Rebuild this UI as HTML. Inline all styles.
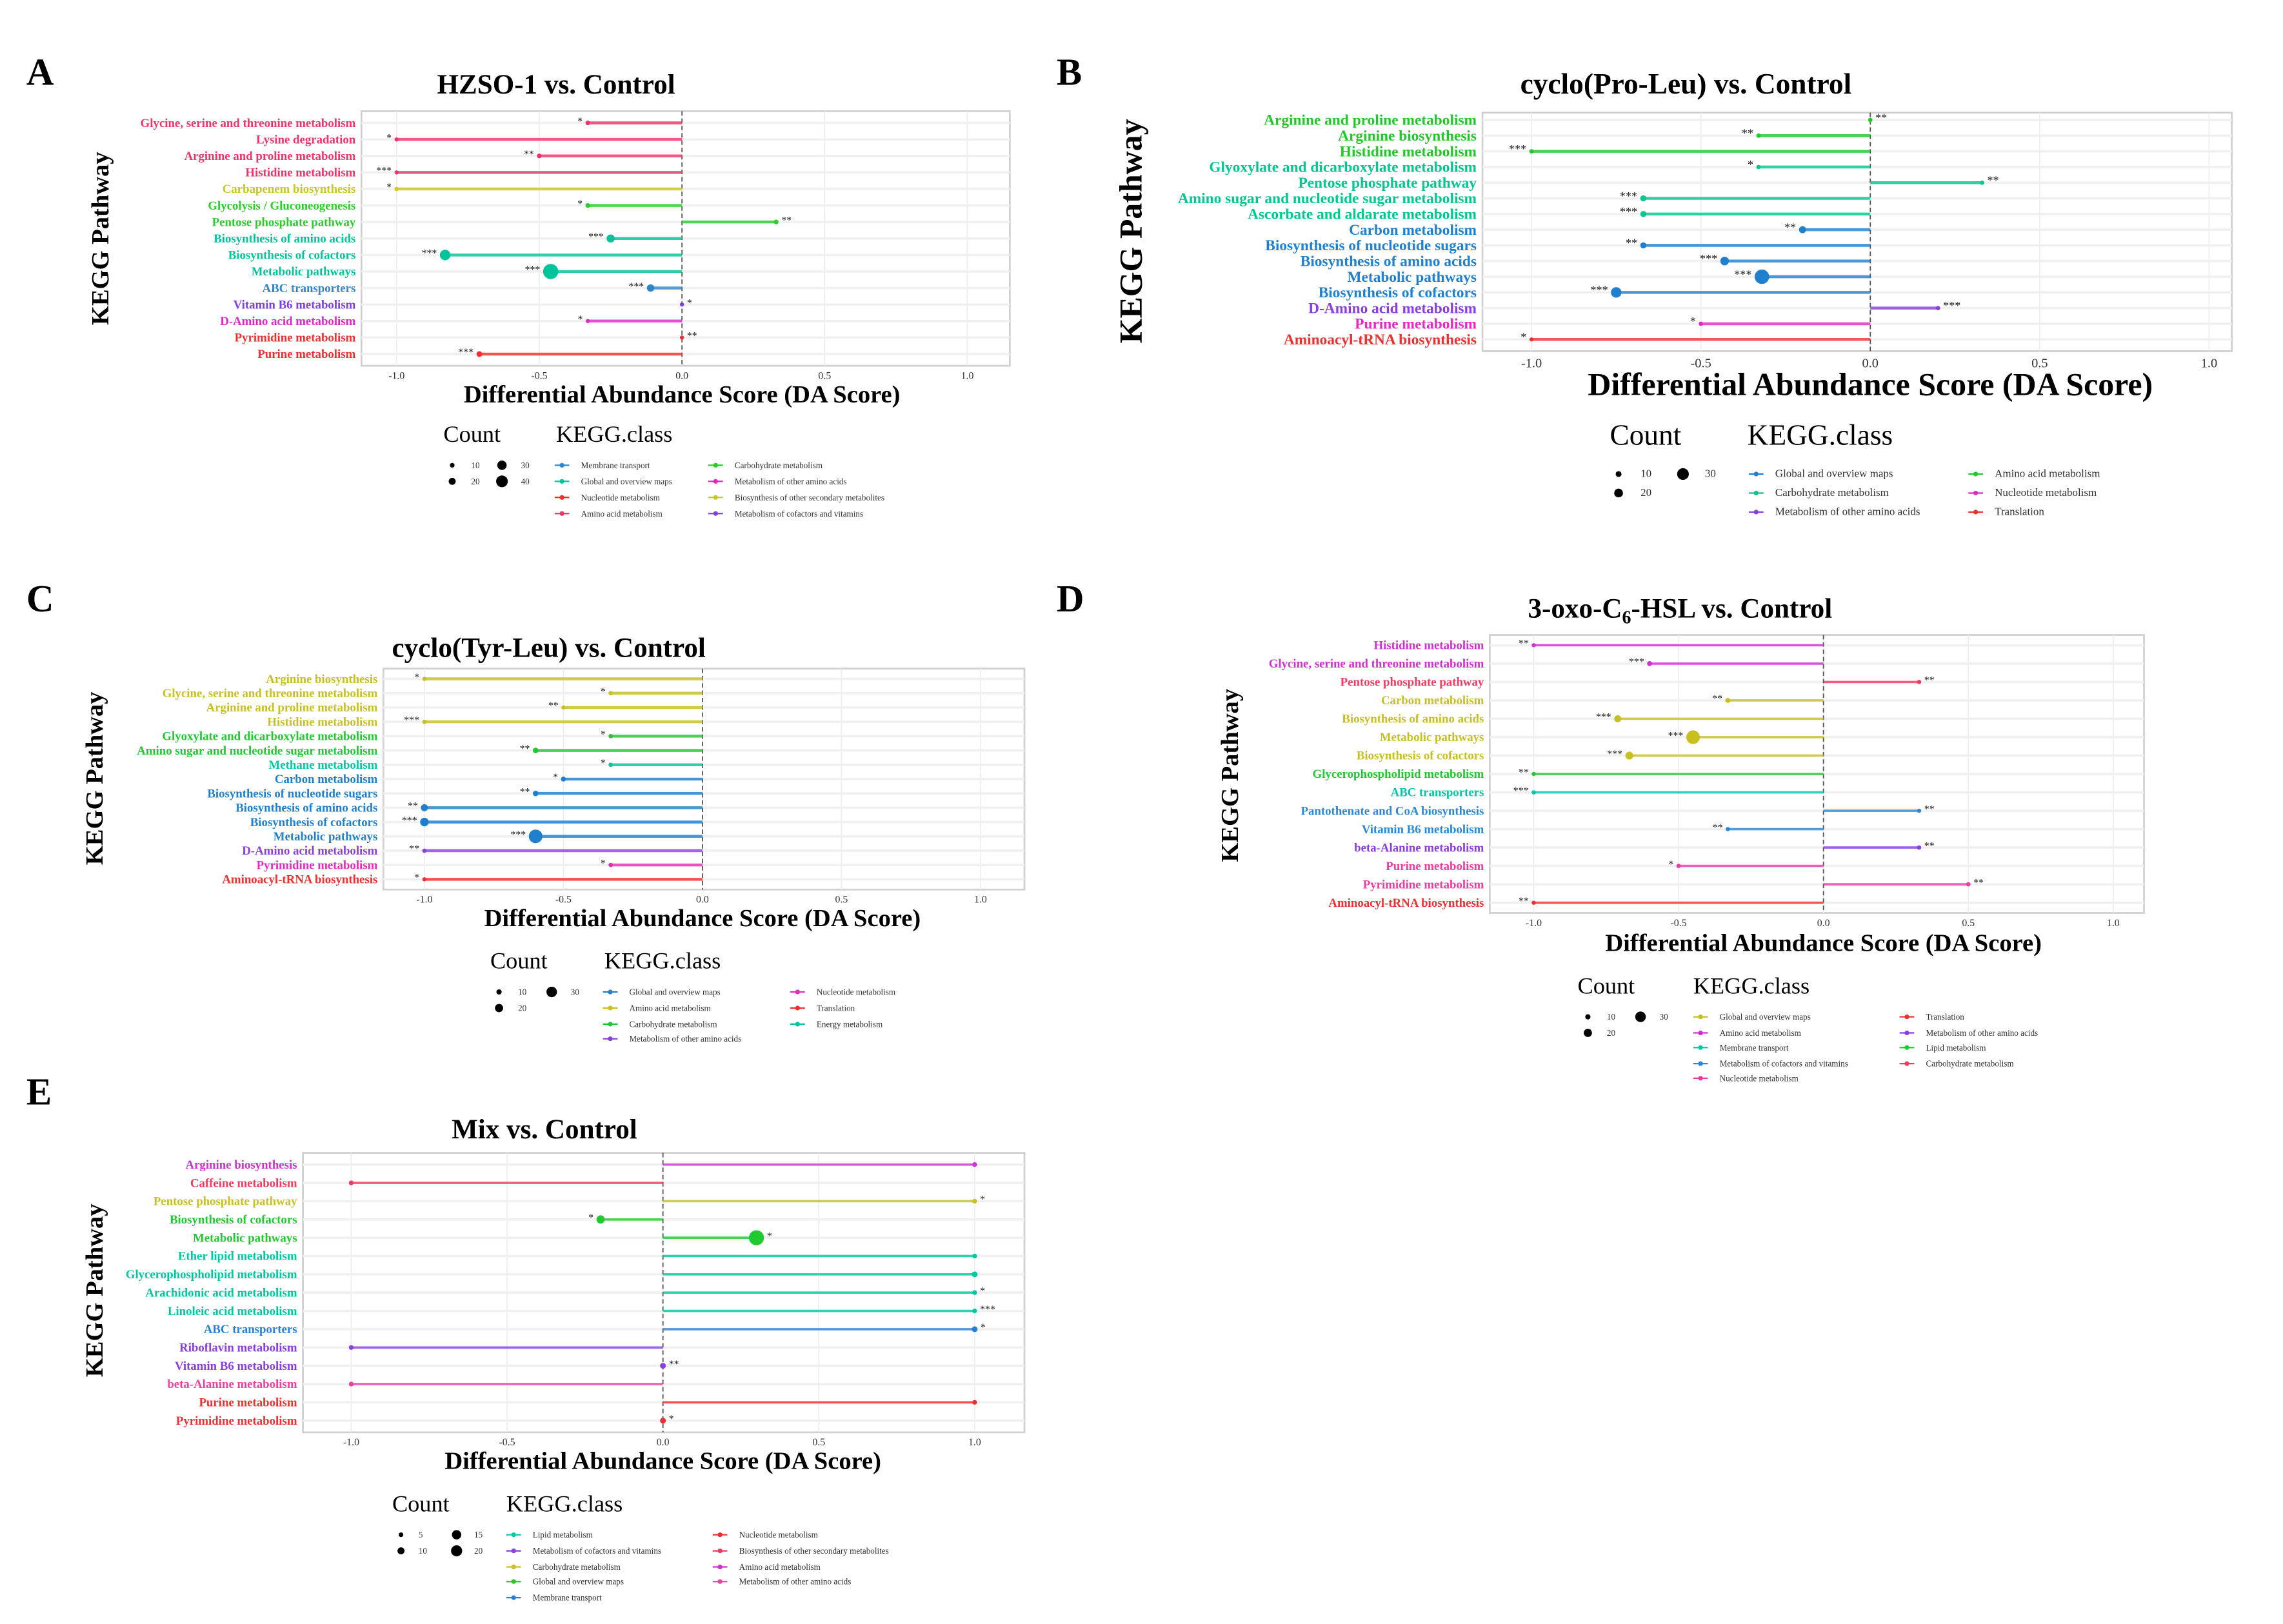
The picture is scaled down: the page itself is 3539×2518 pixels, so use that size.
<!DOCTYPE html>
<html><head><meta charset="utf-8">
<style>
html,body{margin:0;padding:0;background:#fff;}
svg{display:block;}
text{font-family:"Liberation Serif",serif;}
</style></head>
<body>
<svg id="fig" xmlns="http://www.w3.org/2000/svg" width="3539" height="2518" viewBox="0 0 1560 1110" preserveAspectRatio="none"></svg>
<script>
// ---------- Panel A data ----------
const aLabels = ["Glycine, serine and threonine metabolism","Lysine degradation","Arginine and proline metabolism","Histidine metabolism","Carbapenem biosynthesis","Glycolysis / Gluconeogenesis","Pentose phosphate pathway","Biosynthesis of amino acids","Biosynthesis of cofactors","Metabolic pathways","ABC transporters","Vitamin B6 metabolism","D-Amino acid metabolism","Pyrimidine metabolism","Purine metabolism"];
const aValues = [-0.33,-1.0,-0.5,-1.0,-1.0,-0.33,0.33,-0.25,-0.83,-0.46,-0.11,0,-0.33,0,-0.71];
const aSig = ["*","*","**","***","*","*","**","***","***","***","***","*","*","**","***"];
const aClass = ["Amino acid metabolism","Amino acid metabolism","Amino acid metabolism","Amino acid metabolism","Biosynthesis of other secondary metabolites","Carbohydrate metabolism","Carbohydrate metabolism","Global and overview maps","Global and overview maps","Global and overview maps","Membrane transport","Metabolism of cofactors and vitamins","Metabolism of other amino acids","Nucleotide metabolism","Nucleotide metabolism"];
const aCount = [4,3,4,3,2,4,4,12,20,42,10,2,3,2,6];
// ---------- Panel B data ----------
const bLabels = ["Arginine and proline metabolism","Arginine biosynthesis","Histidine metabolism","Glyoxylate and dicarboxylate metabolism","Pentose phosphate pathway","Amino sugar and nucleotide sugar metabolism","Ascorbate and aldarate metabolism","Carbon metabolism","Biosynthesis of nucleotide sugars","Biosynthesis of amino acids","Metabolic pathways","Biosynthesis of cofactors","D-Amino acid metabolism","Purine metabolism","Aminoacyl-tRNA biosynthesis"];
const bValues = [0,-0.33,-1.0,-0.33,0.33,-0.67,-0.67,-0.2,-0.67,-0.43,-0.32,-0.75,0.2,-0.5,-1.0];
const bSig = ["**","**","***","*","**","***","***","**","**","***","***","***","***","*","*"];
const bClass = ["Amino acid metabolism","Amino acid metabolism","Amino acid metabolism","Carbohydrate metabolism","Carbohydrate metabolism","Carbohydrate metabolism","Carbohydrate metabolism","Global and overview maps","Global and overview maps","Global and overview maps","Global and overview maps","Global and overview maps","Metabolism of other amino acids","Nucleotide metabolism","Translation"];
const bCount = [3,3,3,3,3,6,6,8,6,12,34,18,3,3,2];
// ---------- Panel C data ----------
const cLabels = ["Arginine biosynthesis","Glycine, serine and threonine metabolism","Arginine and proline metabolism","Histidine metabolism","Glyoxylate and dicarboxylate metabolism","Amino sugar and nucleotide sugar metabolism","Methane metabolism","Carbon metabolism","Biosynthesis of nucleotide sugars","Biosynthesis of amino acids","Biosynthesis of cofactors","Metabolic pathways","D-Amino acid metabolism","Pyrimidine metabolism","Aminoacyl-tRNA biosynthesis"];
const cValues = [-1.0,-0.33,-0.5,-1.0,-0.33,-0.6,-0.33,-0.5,-0.6,-1.0,-1.0,-0.6,-1.0,-0.33,-1.0];
const cSig = ["*","*","**","***","*","**","*","*","**","**","***","***","**","*","*"];
const cClass = ["Amino acid metabolism","Amino acid metabolism","Amino acid metabolism","Amino acid metabolism","Carbohydrate metabolism","Carbohydrate metabolism","Energy metabolism","Global and overview maps","Global and overview maps","Global and overview maps","Global and overview maps","Global and overview maps","Metabolism of other amino acids","Nucleotide metabolism","Translation"];
const cCount = [2,3,2,3,3,5,3,4,5,8,12,30,3,3,2];
// ---------- Panel D data ----------
const dLabels = ["Histidine metabolism","Glycine, serine and threonine metabolism","Pentose phosphate pathway","Carbon metabolism","Biosynthesis of amino acids","Metabolic pathways","Biosynthesis of cofactors","Glycerophospholipid metabolism","ABC transporters","Pantothenate and CoA biosynthesis","Vitamin B6 metabolism","beta-Alanine metabolism","Purine metabolism","Pyrimidine metabolism","Aminoacyl-tRNA biosynthesis"];
const dValues = [-1.0,-0.6,0.33,-0.33,-0.71,-0.45,-0.67,-1.0,-1.0,0.33,-0.33,0.33,-0.5,0.5,-1.0];
const dSig = ["**","***","**","**","***","***","***","**","***","**","**","**","*","**","**"];
const dClass = ["Amino acid metabolism","Amino acid metabolism","Carbohydrate metabolism","Global and overview maps","Global and overview maps","Global and overview maps","Global and overview maps","Lipid metabolism","Membrane transport","Metabolism of cofactors and vitamins","Metabolism of cofactors and vitamins","Metabolism of other amino acids","Nucleotide metabolism","Nucleotide metabolism","Translation"];
const dCount = [2,4,3,4,8,30,10,2,3,3,3,3,3,3,2];
// ---------- Panel E data ----------
const eLabels = ["Arginine biosynthesis","Caffeine metabolism","Pentose phosphate pathway","Biosynthesis of cofactors","Metabolic pathways","Ether lipid metabolism","Glycerophospholipid metabolism","Arachidonic acid metabolism","Linoleic acid metabolism","ABC transporters","Riboflavin metabolism","Vitamin B6 metabolism","beta-Alanine metabolism","Purine metabolism","Pyrimidine metabolism"];
const eValues = [1.0,-1.0,1.0,-0.2,0.3,1.0,1.0,1.0,1.0,1.0,-1.0,0,-1.0,1.0,0];
const eSig = ["","","*","*","*","","","*","***","*","","**","","","*"];
const eClass = ["Amino acid metabolism","Biosynthesis of other secondary metabolites","Carbohydrate metabolism","Global and overview maps","Global and overview maps","Lipid metabolism","Lipid metabolism","Lipid metabolism","Lipid metabolism","Membrane transport","Metabolism of cofactors and vitamins","Metabolism of cofactors and vitamins","Metabolism of other amino acids","Nucleotide metabolism","Nucleotide metabolism"];
const eCount = [2,2,2,6,20,2,3,2,2,3,2,3,2,2,3];
const xTicks = [-1.0,-0.5,0.0,0.5,1.0];
const xTickLabels = ["-1.0","-0.5","0.0","0.5","1.0"];

const NS="http://www.w3.org/2000/svg";
const svg=document.getElementById('fig');
function mk(tag,attrs,parent,txt){const e=document.createElementNS(NS,tag);for(const k in attrs)e.setAttribute(k,attrs[k]);if(txt!==undefined)e.textContent=txt;(parent||svg).appendChild(e);return e;}

const palA={"Membrane transport":"#2e86d0","Global and overview maps":"#00c49a","Nucleotide metabolism":"#f0302e","Amino acid metabolism":"#ee3468","Carbohydrate metabolism":"#2ccc2c","Metabolism of other amino acids":"#e524c8","Biosynthesis of other secondary metabolites":"#c8c820","Metabolism of cofactors and vitamins":"#7b3fe4"};
const palB={"Global and overview maps":"#1f80d0","Carbohydrate metabolism":"#00c890","Metabolism of other amino acids":"#8a3fe0","Amino acid metabolism":"#22c82a","Nucleotide metabolism":"#e828c0","Translation":"#f03030"};
const palC={"Global and overview maps":"#1f80d0","Amino acid metabolism":"#c8c020","Carbohydrate metabolism":"#22c830","Metabolism of other amino acids":"#8a3fe0","Nucleotide metabolism":"#e828c0","Translation":"#f03030","Energy metabolism":"#00c8a0"};
const palD={"Global and overview maps":"#c8c020","Amino acid metabolism":"#d030d0","Membrane transport":"#00c8a8","Metabolism of cofactors and vitamins":"#2a88d8","Nucleotide metabolism":"#f03ca0","Translation":"#f03030","Metabolism of other amino acids":"#8a3fe0","Lipid metabolism":"#22c830","Carbohydrate metabolism":"#f03a60"};
const palE={"Lipid metabolism":"#00c8a0","Metabolism of cofactors and vitamins":"#8a3fe0","Carbohydrate metabolism":"#c8c020","Global and overview maps":"#22c830","Membrane transport":"#2a80d8","Nucleotide metabolism":"#f03030","Biosynthesis of other secondary metabolites":"#f03a60","Amino acid metabolism":"#d030d0","Metabolism of other amino acids":"#f040a0"};

function panel(p){
  const g=mk('g',{});
  
  
  const L=mk('text',{x:p.letterX,y:p.letterY,'font-size':26,'font-weight':'bold'},g,p.id.toUpperCase());
  
  const T=mk('text',{x:p.titleX,y:p.titleY,'font-size':p.titleSize,'font-weight':'bold','text-anchor':'middle'},g);
  
  if(p.sub){T.appendChild(document.createTextNode('3-oxo-C'));mk('tspan',{'font-size':p.titleSize*0.65,dy:4},T,'6');mk('tspan',{dy:-4},T,'-HSL vs. Control');}
  else T.textContent=p.title;
  const sx=v=>p.zx+v*p.unit;
  const n=p.labels.length;
  const sy=i=>p.yFirst+i*(p.yLast-p.yFirst)/(n-1);
  const bg=mk('rect',{x:p.x0,y:p.y0,width:p.x1-p.x0,height:p.y1-p.y0,fill:'#fff',stroke:'#cfcfcf','stroke-width':1.2},g);
  
  xTicks.forEach((t,k)=>{
    const gl=mk('line',{x1:sx(t),x2:sx(t),y1:p.y0,y2:p.y1,stroke:'#ececec','stroke-width':0.7},g);
    
    const tl=mk('text',{x:sx(t),y:p.y1+p.tickDy,'font-size':p.tickSize,'text-anchor':'middle',fill:'#333'},g,xTickLabels[k]);
    
  });
  p.labels.forEach((lab,i)=>{
    const y=sy(i);
    const hl=mk('line',{x1:p.x0,x2:p.x1,y1:y,y2:y,stroke:'#f0f0f0','stroke-width':1.6},g);
    
  });
  const zl=mk('line',{x1:sx(0),x2:sx(0),y1:p.y0,y2:p.y1,stroke:'#555','stroke-width':0.8,'stroke-dasharray':'3,2'},g);
  
  p.labels.forEach((lab,i)=>{
    const y=sy(i),v=p.values[i],col=p.pal[p.cls[i]];
    const t=mk('text',{x:p.x0-4,y:y+p.labSize*0.33,'font-size':p.labSize,'font-weight':'bold','text-anchor':'end',fill:col},g,lab);
    
    const seg=mk('line',{x1:sx(0),x2:sx(v),y1:y,y2:y,stroke:col,'stroke-width':p.segW,'stroke-opacity':0.8},g);
    
    const r=Math.max(1.4,Math.sqrt(p.count[i])*p.rk);
    const c=mk('circle',{cx:sx(v),cy:y,r:r,fill:col},g);
    
    if(p.sig[i]){
      const neg=v<0;
      const st=mk('text',{x:neg?sx(v)-r-2:sx(v)+r+2,y:y+1,'font-size':p.starSize,'text-anchor':neg?'end':'start',fill:'#222'},g,p.sig[i]);
      
    }
  });
  const xt=mk('text',{x:p.xtX,y:p.xtY,'font-size':p.xtSize,'font-weight':'bold','text-anchor':'middle'},g,'Differential Abundance Score (DA Score)');
  
  const yt=mk('text',{x:0,y:0,'font-size':p.ytSize,'font-weight':'bold','text-anchor':'middle',transform:`translate(${p.ytX},${p.ytY}) rotate(-90)`},g,'KEGG Pathway');
  
  const lg=mk('g',{},g);
  
  const ct=mk('text',{x:p.leg.cx,y:p.leg.hy,'font-size':p.leg.hs},lg,'Count');
  
  const kt=mk('text',{x:p.leg.kx,y:p.leg.hy,'font-size':p.leg.hs},lg,'KEGG.class');
  
  p.leg.sizes.forEach(s=>{
    const d=mk('circle',{cx:s[0],cy:s[1],r:s[3],fill:'#000'},lg);
    
    const tx=mk('text',{x:s[0]+p.leg.sgap,y:s[1]+2,'font-size':p.leg.is,fill:'#333'},lg,s[2]);
    
  });
  p.leg.cols.forEach((col,ci)=>{
    col.forEach((name,ri)=>{
      const x=p.leg.colX[ci],y=p.leg.rowY[ri],c=p.pal[name];
      const e=mk('g',{},lg);
      
      mk('line',{x1:x,x2:x+10,y1:y,y2:y,stroke:c,'stroke-width':1},e);
      mk('circle',{cx:x+5,cy:y,r:1.6,fill:c},e);
      mk('text',{x:x+18,y:y+2,'font-size':p.leg.is,fill:'#333'},e,name);
    });
  });
}

panel({id:'a',letterX:18,letterY:58,title:'HZSO-1 vs. Control',titleX:380,titleY:64,titleSize:19,x0:247,x1:690,y0:76,y1:250,zx:466,unit:195,yFirst:84,yLast:242,
 labels:aLabels,values:aValues,sig:aSig,cls:aClass,count:aCount,pal:palA,labSize:8.3,segW:2,rk:0.8,starSize:7,tickSize:7,tickDy:9,
 xtX:466,xtY:275,xtSize:17,ytX:74,ytY:163,ytSize:17,
 leg:{cx:303,kx:380,hy:302,hs:16,is:5.8,sgap:13,sizes:[[309,318,'10',1.6],[343,318,'30',3.2],[309,329,'20',2.4],[343,329,'40',4]],
  colX:[379,484],rowY:[318,329,340,351],cols:[["Membrane transport","Global and overview maps","Nucleotide metabolism","Amino acid metabolism"],["Carbohydrate metabolism","Metabolism of other amino acids","Biosynthesis of other secondary metabolites","Metabolism of cofactors and vitamins"]]}});

panel({id:'b',letterX:722,letterY:58,title:'cyclo(Pro-Leu) vs. Control',titleX:1152,titleY:64,titleSize:20,x0:1013,x1:1525,y0:77,y1:240,zx:1278,unit:231.5,yFirst:82,yLast:232,
 labels:bLabels,values:bValues,sig:bSig,cls:bClass,count:bCount,pal:palB,labSize:10.3,segW:2,rk:0.85,starSize:8,tickSize:9,tickDy:11,
 xtX:1278,xtY:270,xtSize:22,ytX:780,ytY:158,ytSize:22,
 leg:{cx:1100,kx:1194,hy:304,hs:20,is:7.5,sgap:15,sizes:[[1106,324,'10',2],[1150,324,'30',4],[1106,337,'20',3]],
  colX:[1195,1345],rowY:[324,337,350],cols:[["Global and overview maps","Carbohydrate metabolism","Metabolism of other amino acids"],["Amino acid metabolism","Nucleotide metabolism","Translation"]]}});

panel({id:'c',letterX:18,letterY:418,title:'cyclo(Tyr-Leu) vs. Control',titleX:375,titleY:449,titleSize:19,x0:262,x1:700,y0:457,y1:608,zx:480,unit:190,yFirst:464,yLast:601,
 labels:cLabels,values:cValues,sig:cSig,cls:cClass,count:cCount,pal:palC,labSize:8.3,segW:2,rk:0.85,starSize:7,tickSize:7,tickDy:9,
 xtX:480,xtY:633,xtSize:17,ytX:70,ytY:532,ytSize:17,
 leg:{cx:335,kx:413,hy:662,hs:16,is:5.8,sgap:13,sizes:[[341,678,'10',1.8],[377,678,'30',3.6],[341,689,'20',2.8]],
  colX:[412,540],rowY:[678,689,700,710],cols:[["Global and overview maps","Amino acid metabolism","Carbohydrate metabolism","Metabolism of other amino acids"],["Nucleotide metabolism","Translation","Energy metabolism"]]}});

panel({id:'d',letterX:722,letterY:418,sub:true,titleX:1148,titleY:422,titleSize:19,x0:1018,x1:1465,y0:434,y1:624,zx:1246,unit:198,yFirst:441,yLast:617,
 labels:dLabels,values:dValues,sig:dSig,cls:dClass,count:dCount,pal:palD,labSize:8.3,segW:1.6,rk:0.85,starSize:7,tickSize:7,tickDy:9,
 xtX:1246,xtY:650,xtSize:17,ytX:846,ytY:530,ytSize:17,
 leg:{cx:1078,kx:1157,hy:679,hs:16,is:5.8,sgap:13,sizes:[[1085,695,'10',1.8],[1121,695,'30',3.6],[1085,706,'20',2.8]],
  colX:[1157,1298],rowY:[695,706,716,727,737],cols:[["Global and overview maps","Amino acid metabolism","Membrane transport","Metabolism of cofactors and vitamins","Nucleotide metabolism"],["Translation","Metabolism of other amino acids","Lipid metabolism","Carbohydrate metabolism"]]}});

panel({id:'e',letterX:18,letterY:755,title:'Mix vs. Control',titleX:372,titleY:778,titleSize:19,x0:207,x1:700,y0:788,y1:979,zx:453,unit:213,yFirst:796,yLast:971,
 labels:eLabels,values:eValues,sig:eSig,cls:eClass,count:eCount,pal:palE,labSize:8.3,segW:1.6,rk:1.15,starSize:7,tickSize:7,tickDy:9,
 xtX:453,xtY:1004,xtSize:17,ytX:70,ytY:882,ytSize:17,
 leg:{cx:268,kx:346,hy:1033,hs:16,is:5.8,sgap:12,sizes:[[274,1049,'5',1.6],[312,1049,'15',3.2],[274,1060,'10',2.4],[312,1060,'20',3.8]],
  colX:[346,487],rowY:[1049,1060,1071,1081,1092],cols:[["Lipid metabolism","Metabolism of cofactors and vitamins","Carbohydrate metabolism","Global and overview maps","Membrane transport"],["Nucleotide metabolism","Biosynthesis of other secondary metabolites","Amino acid metabolism","Metabolism of other amino acids"]]}});
</script>
</body></html>
